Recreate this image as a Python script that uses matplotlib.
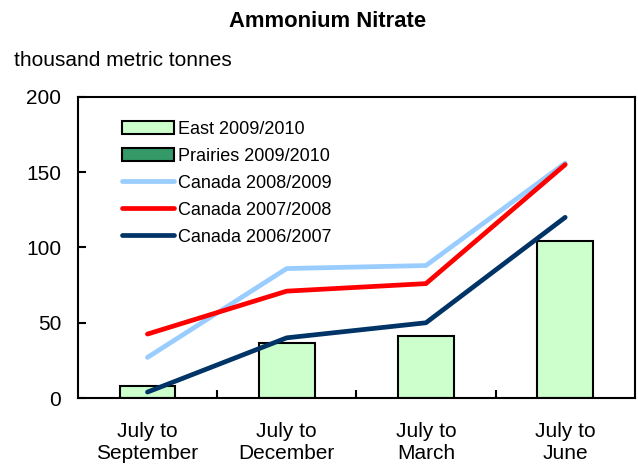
import numpy as np
from matplotlib import pyplot as plt

plt.rcParams['font.family'] = ['Liberation Sans', 'DejaVu Sans']

categories = ["July to\nSeptember", "July to\nDecember", "July to\nMarch", "July to\nJune"]
east_0910 = [8, 36.5, 41, 104]
prairies_0910 = [0, 0, 0, 0]
canada_0809 = [27, 86, 88, 156]
canada_0708 = [42.5, 71, 76, 155]
canada_0607 = [4, 40, 50, 120]

fig = plt.figure(figsize=(6.38, 4.70), dpi=100)
ax = fig.add_axes([0.122, 0.153, 0.873, 0.641])

x = np.arange(len(categories))
b1 = ax.bar(x, east_0910, width=0.4, color="#ccffcc", edgecolor="black", linewidth=1.5,
            label="East 2009/2010", zorder=2)
b2 = ax.bar(x, prairies_0910, width=0.4, color="#339966", edgecolor="black", linewidth=1.5,
            label="Prairies 2009/2010", zorder=1)
l1, = ax.plot(x, canada_0809, color="#99ccff", lw=3.4, label="Canada 2008/2009", zorder=3,
              solid_capstyle="round")
l2, = ax.plot(x, canada_0708, color="#ff0000", lw=3.4, label="Canada 2007/2008", zorder=3,
              solid_capstyle="round")
l3, = ax.plot(x, canada_0607, color="#003366", lw=3.4, label="Canada 2006/2007", zorder=4,
              solid_capstyle="round")

ax.set_xlim(-0.5, 3.5)
ax.set_ylim(0, 200)
ax.set_yticks([0, 50, 100, 150, 200])
ax.set_xticks(x)
ax.set_xticklabels(categories, fontsize=15, linespacing=1.25)
ax.tick_params(axis="x", length=0, pad=17)
ax.set_xticks([0.5, 1.5, 2.5], minor=True)
ax.tick_params(axis="x", which="minor", direction="in", length=6, width=1.5)
ax.tick_params(axis="y", direction="in", length=6, width=1.5, labelsize=15, pad=12)
for s in ax.spines.values():
    s.set_linewidth(1.5)

ax.legend([b1, b2, l1, l2, l3],
          ["East 2009/2010", "Prairies 2009/2010", "Canada 2008/2009",
           "Canada 2007/2008", "Canada 2006/2007"],
          loc="upper left", bbox_to_anchor=(0.066, 0.945), frameon=False,
          fontsize=13, handlelength=2.9, handleheight=0.8, handletextpad=0.2,
          labelspacing=0.54, borderaxespad=0)

fig.text(0.514, 0.955, "Ammonium Nitrate", ha="center", va="center",
         fontsize=15.8, fontweight="bold")
fig.text(0.022, 0.872, "thousand metric tonnes", ha="left", va="center", fontsize=15)

fig.savefig("out.png", dpi=100)
